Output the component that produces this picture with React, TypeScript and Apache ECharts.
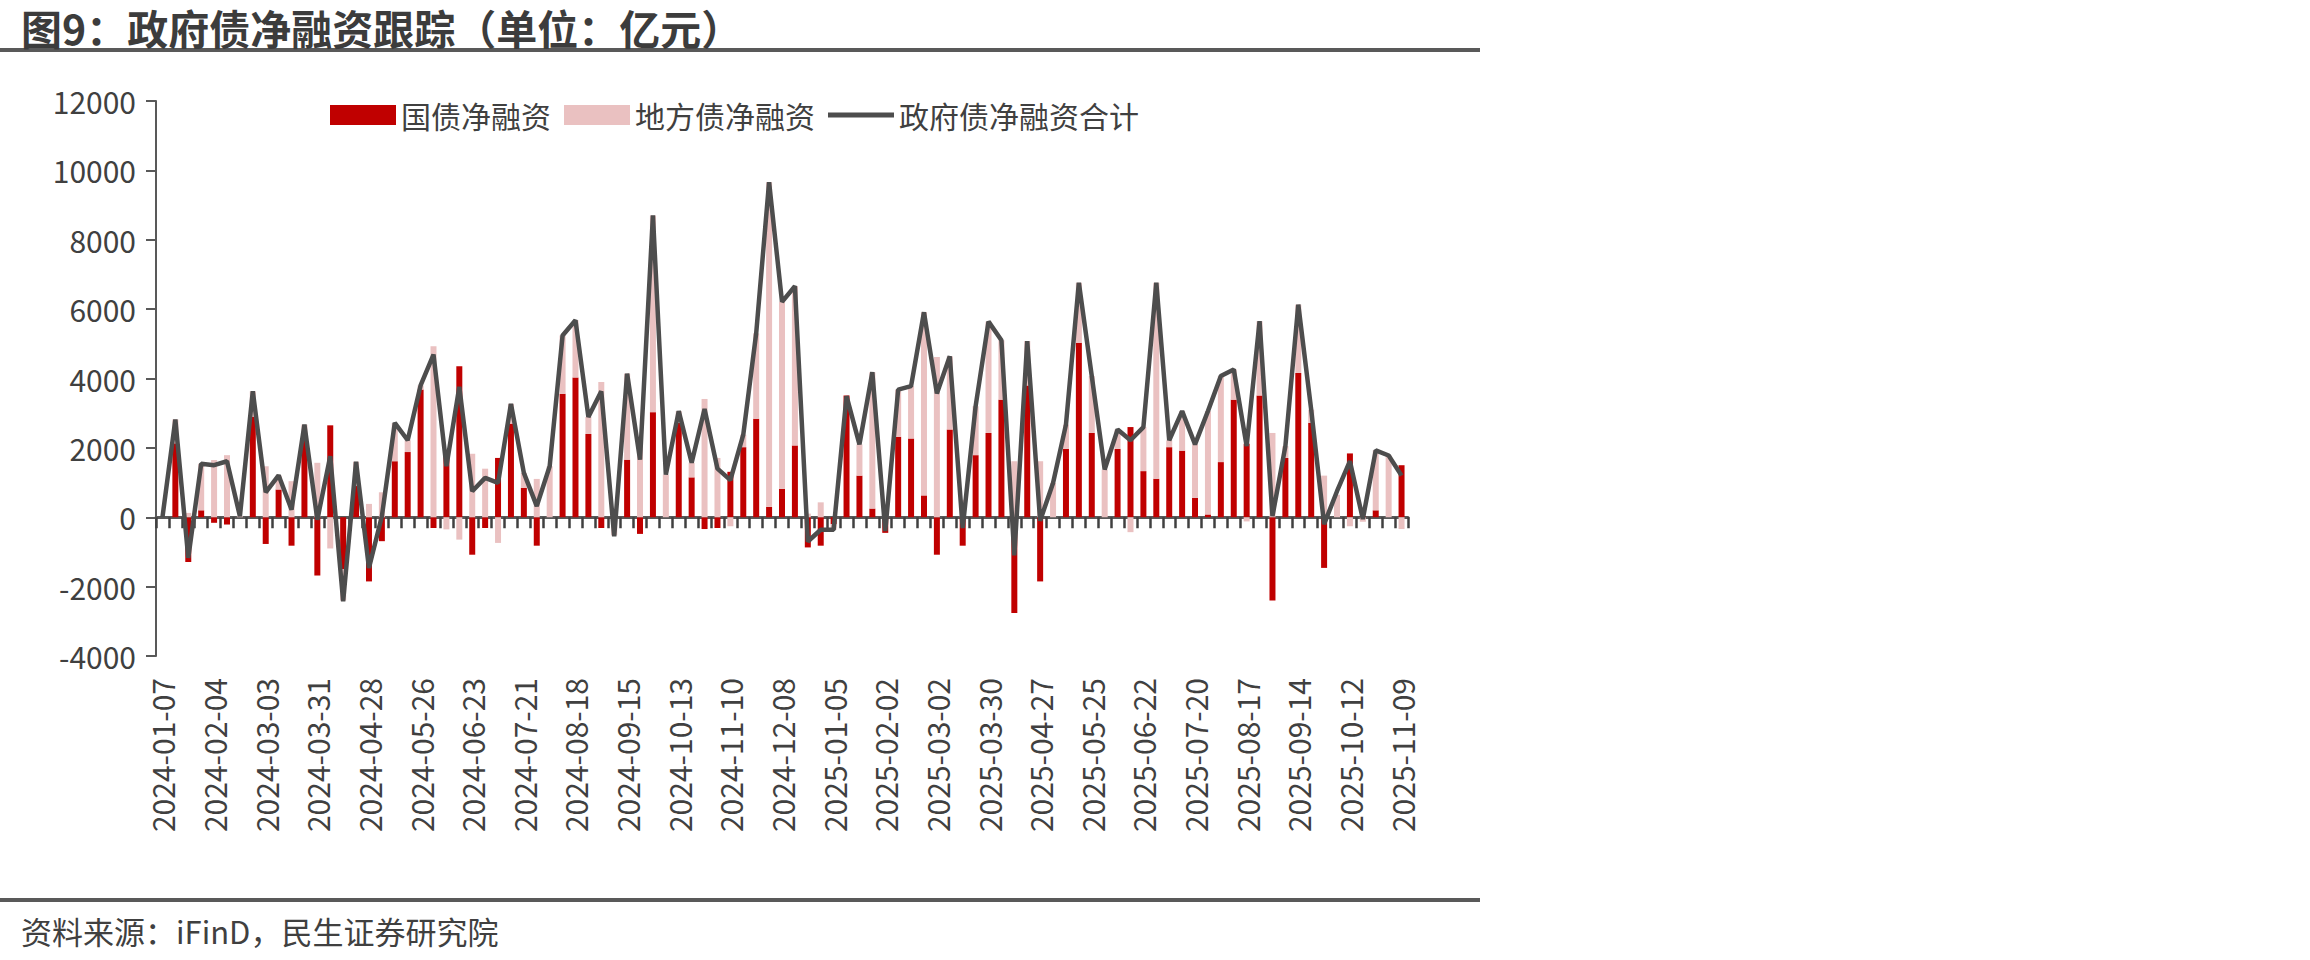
import React, { useEffect, useRef } from 'react';
import * as echarts from 'echarts';

const weeks = [
  '2024-01-07', '2024-01-14', '2024-01-21', '2024-01-28',
  '2024-02-04', '2024-02-11', '2024-02-18', '2024-02-25',
  '2024-03-03', '2024-03-10', '2024-03-17', '2024-03-24', '2024-03-31',
  '2024-04-07', '2024-04-14', '2024-04-21', '2024-04-28',
  '2024-05-05', '2024-05-12', '2024-05-19', '2024-05-26',
  '2024-06-02', '2024-06-09', '2024-06-16', '2024-06-23', '2024-06-30',
  '2024-07-07', '2024-07-14', '2024-07-21', '2024-07-28',
  '2024-08-04', '2024-08-11', '2024-08-18', '2024-08-25',
  '2024-09-01', '2024-09-08', '2024-09-15', '2024-09-22', '2024-09-29',
  '2024-10-06', '2024-10-13', '2024-10-20', '2024-10-27',
  '2024-11-03', '2024-11-10', '2024-11-17', '2024-11-24',
  '2024-12-01', '2024-12-08', '2024-12-15', '2024-12-22', '2024-12-29',
  '2025-01-05', '2025-01-12', '2025-01-19', '2025-01-26',
  '2025-02-02', '2025-02-09', '2025-02-16', '2025-02-23',
  '2025-03-02', '2025-03-09', '2025-03-16', '2025-03-23', '2025-03-30',
  '2025-04-06', '2025-04-13', '2025-04-20', '2025-04-27',
  '2025-05-04', '2025-05-11', '2025-05-18', '2025-05-25',
  '2025-06-01', '2025-06-08', '2025-06-15', '2025-06-22', '2025-06-29',
  '2025-07-06', '2025-07-13', '2025-07-20', '2025-07-27',
  '2025-08-03', '2025-08-10', '2025-08-17', '2025-08-24', '2025-08-31',
  '2025-09-07', '2025-09-14', '2025-09-21', '2025-09-28',
  '2025-10-05', '2025-10-12', '2025-10-19', '2025-10-26',
  '2025-11-02', '2025-11-09',
];

// 国债净融资（亿元）
const treasuryNet = [
  0, 2130, -1290, 200, -160, -210, 0, 2900, -770, 800,
  -820, 2350, -1680, 2650, -1500, 900, -1850, -690, 1615, 1880,
  3680, -310, 1800, 4355, -1080, -310, 1710, 2700, 850, -820,
  0, 3560, 4030, 2400, -310, 0, 1660, -480, 3030, 0,
  2720, 1150, -340, -310, 1310, 2020, 2840, 300, 820, 2070,
  -870, -820, -200, 3510, 1200, 250, -450, 2320, 2270, 630,
  -1080, 2530, -820, 1790, 2430, 3390, -2760, 3800, -1850, 0,
  1970, 5030, 2430, 0, 1970, 2600, 1330, 1110, 2020, 1920,
  560, 80, 1590, 3390, 2120, 3510, -2400, 1710, 4160, 2720,
  -1460, 0, 1840, 30, 200, 0, 1500,
];

// 地方债净融资（亿元）
const localNet = [
  0, 690, 125, 1340, 1650, 1790, 30, 730, 1470, 400,
  1040, 320, 1570, -900, -900, 700, 385, 720, 1100, 340,
  120, 4930, -350, -645, 1830, 1400, -740, 570, 430, 1105,
  1470, 1680, 1650, 490, 3900, -520, 2480, 2140, 5670, 1230,
  340, 420, 3410, 1710, -260, 360, 2460, 9360, 5390, 4590,
  105, 430, -160, 0, 900, 3930, 50, 1360, 1510, 5280,
  4620, 2110, 500, 1410, 3210, 1710, 1615, 1280, 1615, 990,
  700, 1730, 1640, 1375, 560, -430, 1270, 5650, 200, 1140,
  1540, 2980, 2480, 870, -120, 2140, 2430, 340, 1970, 380,
  1200, 650, -260, -130, 1730, 1780, -340,
];

// 政府债净融资合计（亿元）
const totalNet = [
  0, 2820, -1170, 1540, 1500, 1615, 30, 3630, 720, 1210,
  220, 2670, -70, 1760, -2420, 1600, -1460, 30, 2720, 2220,
  3800, 4690, 1470, 3760, 750, 1135, 990, 3270, 1280, 320,
  1470, 5240, 5680, 2890, 3630, -550, 4140, 1660, 8700, 1230,
  3060, 1570, 3120, 1400, 1070, 2380, 5300, 9660, 6210, 6660,
  -700, -360, -360, 3490, 2100, 4180, -400, 3680, 3780, 5910,
  3570, 4640, -310, 3200, 5640, 5100, -1100, 5080, -100, 990,
  2670, 6760, 4070, 1375, 2530, 2220, 2600, 6760, 2220, 3060,
  2100, 3060, 4070, 4260, 2050, 5650, 30, 2050, 6130, 3100,
  -200, 750, 1615, -50, 1930, 1780, 1200,
];

const seriesNames = ['国债净融资', '地方债净融资', '政府债净融资合计'];

const FONT = '"Noto Sans CJK SC", "Noto Sans", sans-serif';
const TEXT = '#404040';
const AXIS = '#595959';
const LINE = '#4D4D4D';

const App: React.FC = () => {
  const chartRef = useRef<HTMLDivElement>(null);

  useEffect(() => {
    const chart = echarts.init(chartRef.current!, null, { renderer: 'svg' });

    chart.setOption({
      animation: false,
      textStyle: { fontFamily: FONT },
      title: {
        text: '图9：政府债净融资跟踪（单位：亿元）',
        left: 21,
        top: 6,
        padding: 0,
        textStyle: { fontSize: 41, fontWeight: 'bold', color: '#3c3c3c', fontFamily: FONT },
      },
      legend: {
        data: [
          { name: seriesNames[0], icon: 'rect' },
          { name: seriesNames[1], icon: 'rect' },
          { name: seriesNames[2], icon: 'path://M0 0H66V5H0Z', itemStyle: { color: LINE } },
        ],
        left: 330,
        top: 100,
        padding: 0,
        itemWidth: 66,
        itemHeight: 20,
        itemGap: 13,
        textStyle: { fontSize: 30, color: TEXT, fontFamily: FONT },
      },
      grid: {
        left: 156,
        top: 101,
        width: 1252,
        height: 555,
        containLabel: false,
        outerBoundsMode: 'none',
      },
      xAxis: [
        {
          type: 'category',
          data: weeks,
          boundaryGap: true,
          position: 'bottom',
          axisLine: { onZero: true, lineStyle: { color: AXIS, width: 3 } },
          axisTick: { show: true, interval: 0, length: 11, lineStyle: { color: TEXT, width: 2.5 } },
          axisLabel: { show: false },
          splitLine: { show: false },
        },
        {
          type: 'category',
          data: weeks,
          boundaryGap: true,
          position: 'bottom',
          offset: 0,
          axisLine: { show: false, onZero: false },
          axisTick: { show: false },
          axisLabel: {
            interval: 3,
            rotate: 90,
            margin: 22,
            fontSize: 30,
            color: TEXT,
            fontFamily: FONT,
          },
          splitLine: { show: false },
        },
      ],
      yAxis: {
        type: 'value',
        min: -4000,
        max: 12000,
        interval: 2000,
        axisLine: { show: true, lineStyle: { color: AXIS, width: 2 } },
        axisTick: { show: true, length: 10, lineStyle: { color: AXIS, width: 2 } },
        axisLabel: {
          fontSize: 30,
          color: TEXT,
          margin: 20,
          fontFamily: FONT,
          formatter: (v: number) => String(v),
        },
        splitLine: { show: false },
      },
      series: [
        {
          name: seriesNames[0],
          type: 'bar',
          stack: 'net',
          barWidth: 6,
          itemStyle: { color: '#C00000' },
          data: treasuryNet,
        },
        {
          name: seriesNames[1],
          type: 'bar',
          stack: 'net',
          barWidth: 6,
          itemStyle: { color: '#EAC1C1' },
          data: localNet,
        },
        {
          name: seriesNames[2],
          type: 'line',
          symbol: 'none',
          z: 5,
          lineStyle: { color: LINE, width: 4.5 },
          itemStyle: { color: LINE },
          data: totalNet,
        },
      ],
      graphic: [
        { type: 'rect', shape: { x: 0, y: 48, width: 1480, height: 4 }, style: { fill: AXIS } },
        { type: 'rect', shape: { x: 0, y: 898, width: 1480, height: 4 }, style: { fill: AXIS } },
        {
          type: 'text',
          x: 21,
          y: 930,
          style: {
            text: '资料来源：iFinD，民生证券研究院',
            fontSize: 31,
            fill: TEXT,
            fontFamily: FONT,
            verticalAlign: 'middle',
          },
        },
      ],
    });

    return () => {
      chart.dispose();
    };
  }, []);

  return (
    <div
      ref={chartRef}
      style={{ position: 'absolute', left: 0, top: 0, width: '2310px', height: '960px' }}
    />
  );
};

export default App;
